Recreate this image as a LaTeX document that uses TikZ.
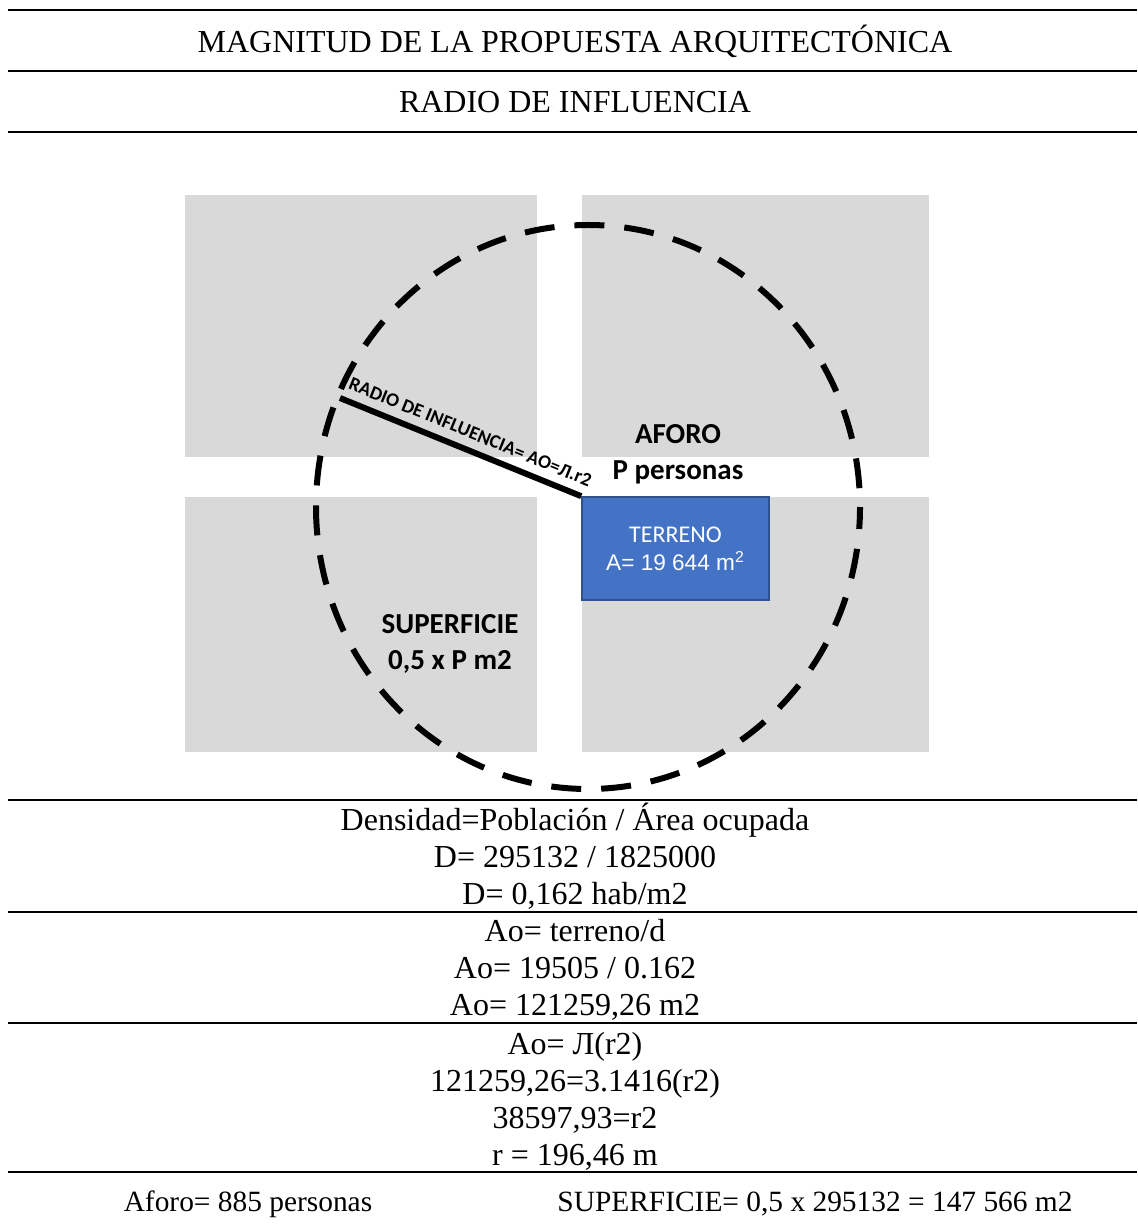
\documentclass[tikz,border=0pt]{standalone}
\usepackage{fontspec}
\setmainfont{Liberation Serif}
\newfontfamily\calibri{Carlito}
\newfontfamily\arial{Liberation Sans}
\usetikzlibrary{positioning}
\definecolor{zonegray}{HTML}{D9D9D9}
\definecolor{terrblue}{HTML}{4472C4}
\definecolor{terredge}{HTML}{2F528F}

\begin{document}
\begin{tikzpicture}[x=0.5pt, y=-0.5pt,
    rule/.style={line width=1pt},
    zona/.style={fill=zonegray, draw=none},
    txt/.style={align=center, inner sep=0pt, font=\fontsize{16}{18.5}\selectfont},
    lbl/.style={align=center, inner sep=0pt, font=\calibri\bfseries\fontsize{14.5}{18}\selectfont},
    terr/.style={fill=terrblue, draw=terredge, line width=0.8pt, text=white, align=center,
      font=\calibri\fontsize{12}{14}\selectfont}]
    \useasboundingbox (0,0) rectangle (1137,1229);
    % titles
    \draw[rule] (8,10) -- (1137,10);
    \node[txt] (title) at (575,41) {MAGNITUD DE LA PROPUESTA ARQUITECTÓNICA};
    \draw[rule] (8,71) -- (1137,71);
    \node[txt] (sub) at (575,102) {RADIO DE INFLUENCIA};
    \draw[rule] (8,132) -- (1137,132);
    % manzanas
    \fill[zona] (185,195) rectangle (537,457);
    \fill[zona] (582,195) rectangle (929,457);
    \fill[zona] (185,497) rectangle (537,752);
    \fill[zona] (582,497) rectangle (929,752);
    % radio de influencia
    \draw[line width=3pt, dash pattern=on 15pt off 10pt, dash phase=4pt]
      (588,507) ellipse [x radius=272, y radius=282];
    \node[terr, minimum width=93.5pt, minimum height=51.5pt] (terreno) at (675.5,548.5)
      {TERRENO\\{\arial\fontsize{11.3}{14}\selectfont A= 19 644 m\textsuperscript{2}}};
    \coordinate (borde) at (340,398);
    \draw[line width=3pt] (borde) -- (terreno.north west);
    \node[font=\calibri\bfseries\fontsize{9.6}{10}\selectfont, inner sep=0pt, rotate=-22.2,
      anchor=south west] (rlbl) at (347,389) {RADIO DE INFLUENCIA= AO=Л.r2};
    \node[lbl] (aforo) at (678,454) {AFORO\\P personas};
    \node[lbl] (sup) at (450,644) {SUPERFICIE\\0,5 x P m2};
    % calculos
    \draw[rule] (8,800) -- (1137,800);
    \node[txt] (dens) at (575,856) {Densidad=Población / Área ocupada\\D= 295132 / 1825000\\D= 0,162 hab/m2};
    \draw[rule] (8,912) -- (1137,912);
    \node[txt] (ao) at (575,970) {Ao= terreno/d\\Ao= 19505 / 0.162\\Ao= 121259,26 m2};
    \draw[rule] (8,1023) -- (1137,1023);
    \node[txt] (rad) at (575,1101) {Ao= Л(r2)\\121259,26=3.1416(r2)\\38597,93=r2\\r = 196,46 m};
    \draw[rule] (8,1172) -- (1137,1172);
    \node[txt, font=\fontsize{14.7}{17}\selectfont] (afo) at (248,1204) {Aforo= 885 personas};
    \node[txt, font=\fontsize{14.7}{17}\selectfont] (supf) at (815,1204) {SUPERFICIE= 0,5 x 295132 = 147 566 m2};
\end{tikzpicture}
\end{document}
